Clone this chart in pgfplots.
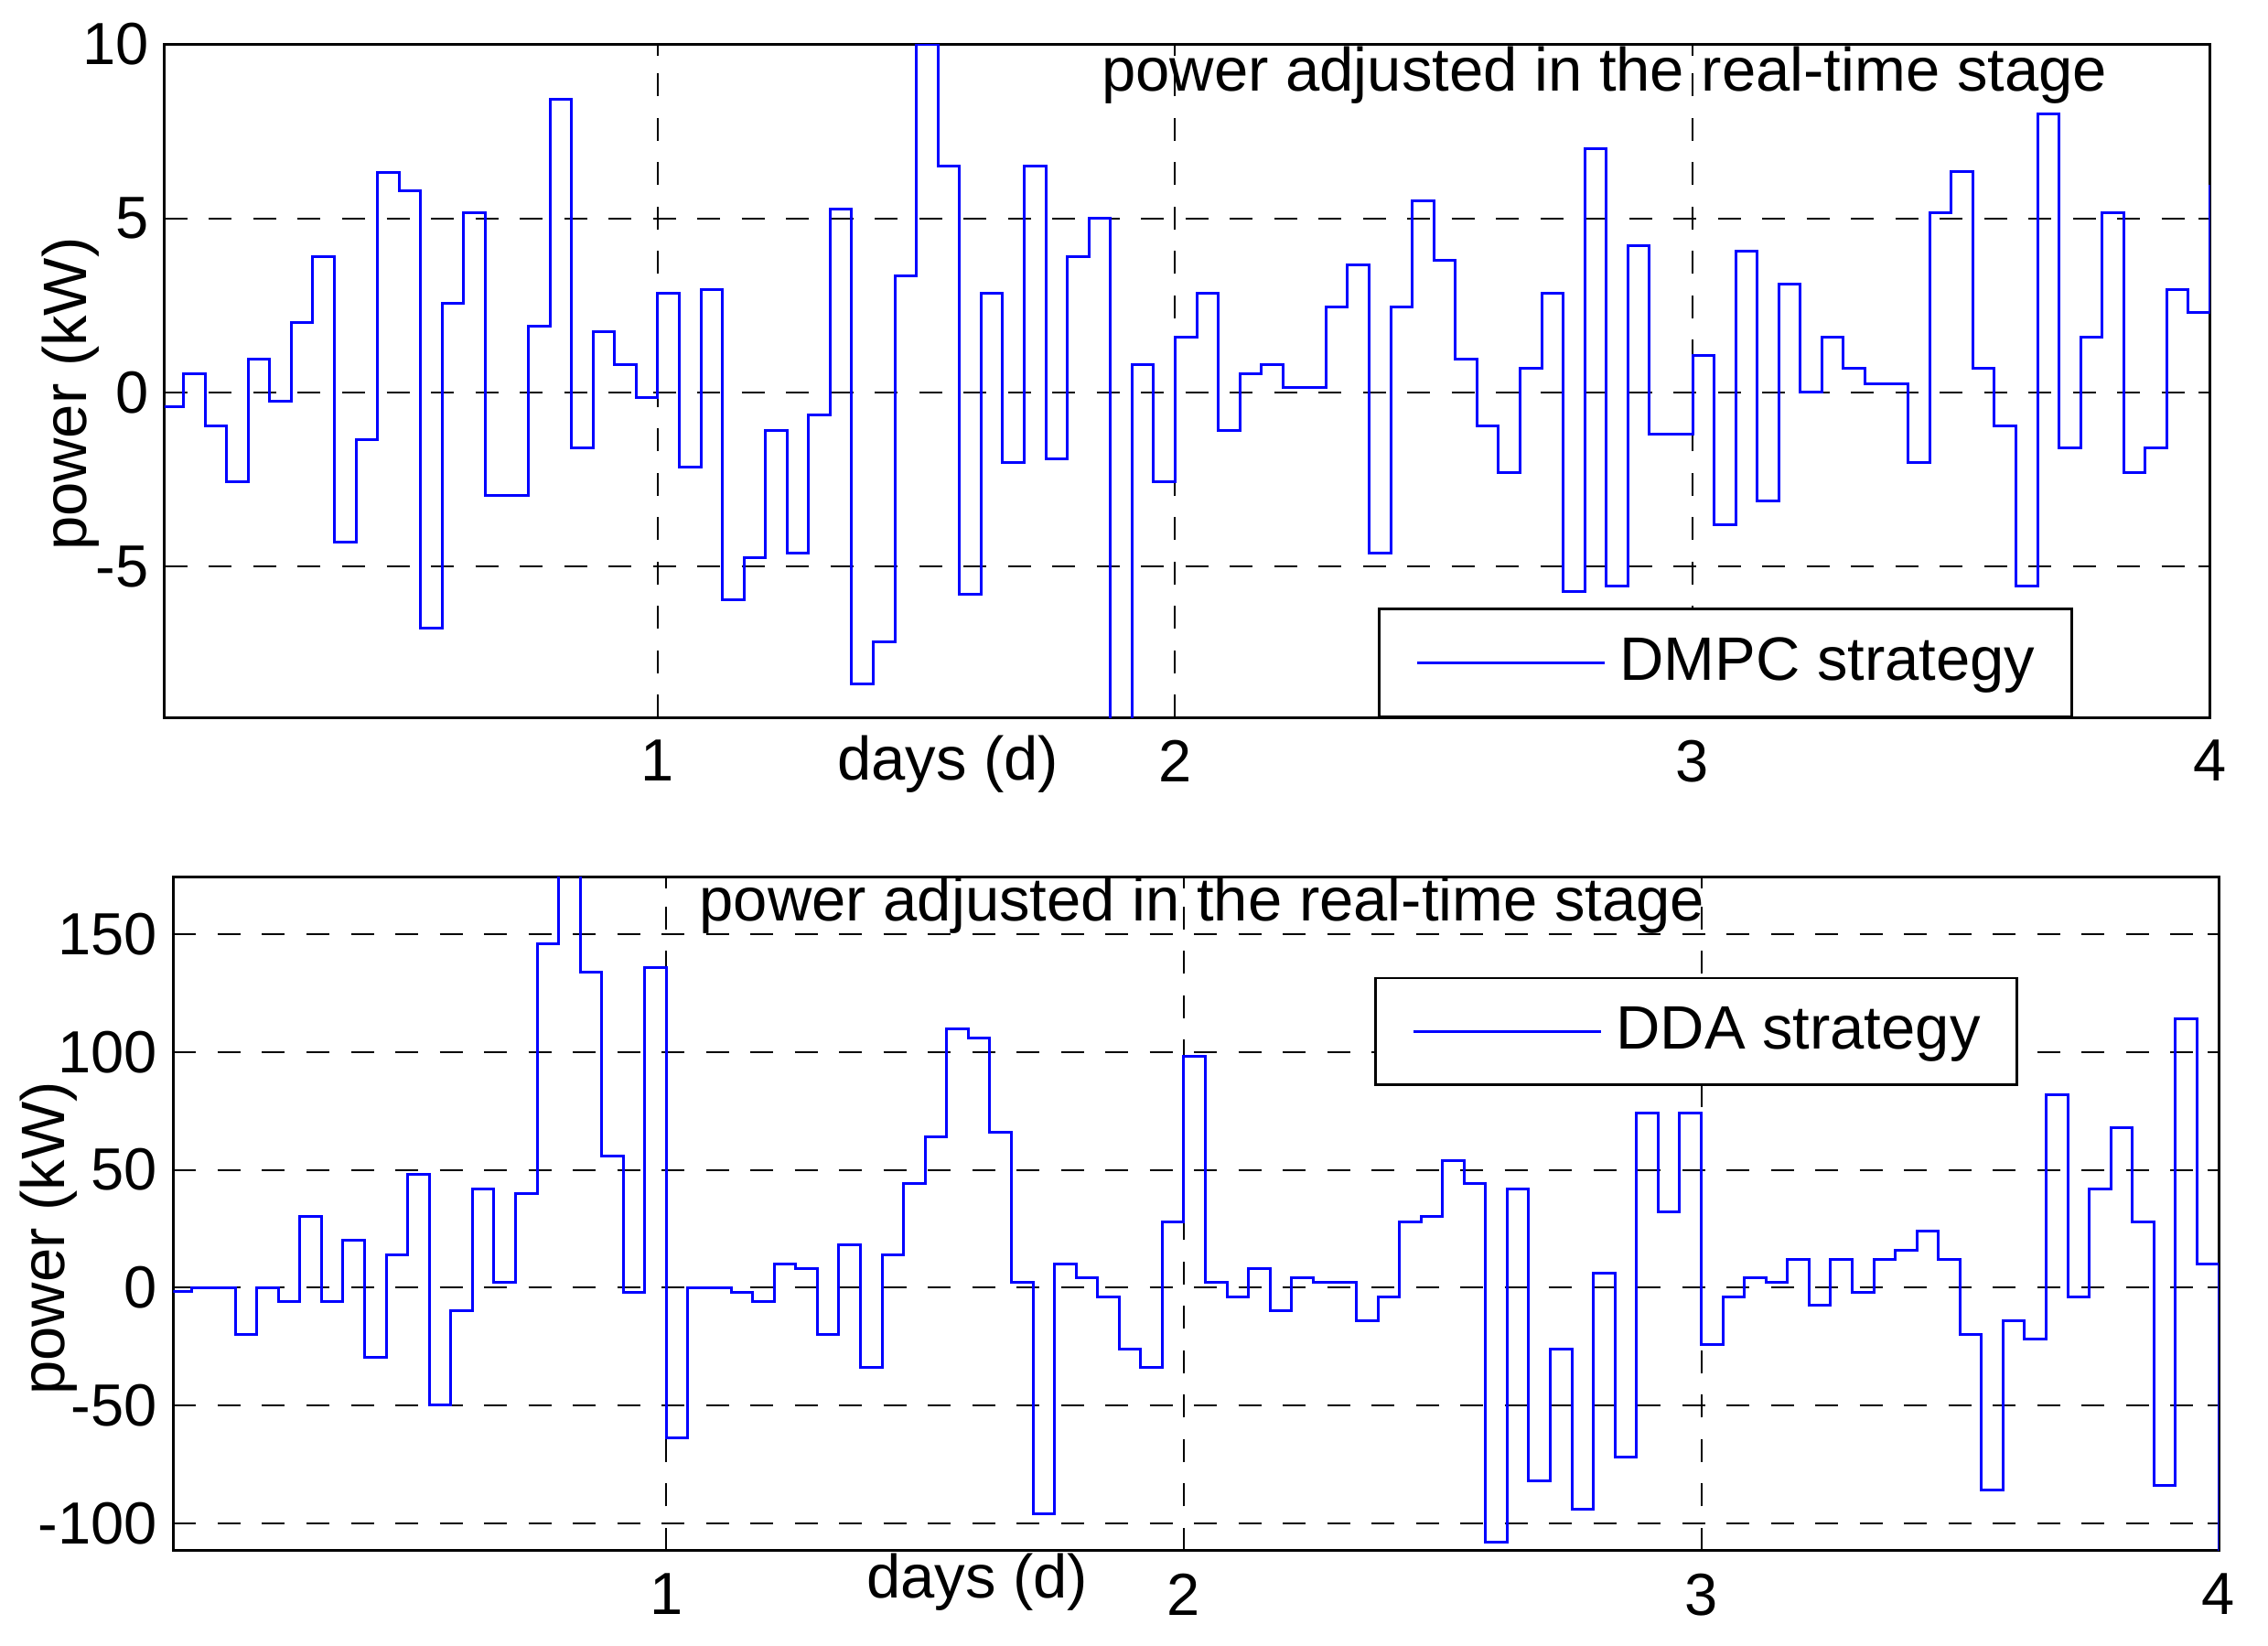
\documentclass[border=0pt]{standalone}
\usepackage{fontspec}
\setmainfont{Liberation Sans}
\usepackage{pgfplots}
\usepackage{pgfplotstable}
\pgfplotsset{compat=1.18}

% hour  power (kW), DMPC strategy
\pgfplotstableread{
h v
1 -0.4
2 0.55
3 -0.95
4 -2.55
5 0.95
6 -0.25
7 2.0
8 3.9
9 -4.3
10 -1.35
11 6.3
12 5.8
13 -6.75
14 2.55
15 5.15
16 -2.95
17 -2.95
18 1.9
19 8.4
20 -1.6
21 1.75
22 0.8
23 -0.15
24 2.85
25 -2.15
26 2.95
27 -5.95
28 -4.75
29 -1.1
30 -4.6
31 -0.65
32 5.25
33 -8.35
34 -7.15
35 3.35
36 10
37 6.5
38 -5.8
39 2.85
40 -2.0
41 6.5
42 -1.9
43 3.9
44 5.0
45 -10.5
46 0.8
47 -2.55
48 1.6
49 2.85
50 -1.1
51 0.55
52 0.8
53 0.15
54 0.15
55 2.45
56 3.65
57 -4.6
58 2.45
59 5.5
60 3.8
61 0.95
62 -0.95
63 -2.3
64 0.7
65 2.85
66 -5.7
67 7.0
68 -5.55
69 4.2
70 -1.2
71 -1.2
72 1.05
73 -3.8
74 4.05
75 -3.1
76 3.1
77 0.0
78 1.6
79 0.7
80 0.25
81 0.25
82 -2.0
83 5.15
84 6.35
85 0.7
86 -0.95
87 -5.55
88 8.0
89 -1.6
90 1.6
91 5.15
92 -2.3
93 -1.6
94 2.95
95 2.3
96 5.95
}\dmpc

% hour  power (kW), DDA strategy
\pgfplotstableread{
h v
1 -1.5
2 0
3 0
4 -20
5 0
6 -6
7 30
8 -6
9 20
10 -29.5
11 14
12 48
13 -50
14 -10
15 42
16 2.3
17 40
18 146
19 180
20 134
21 56
22 -2
23 136
24 -64
25 0
26 0
27 -2
28 -6
29 10
30 8
31 -20
32 18
33 -34
34 14
35 44
36 64
37 110
38 106
39 66
40 2.3
41 -96
42 10
43 4
44 -4
45 -26
46 -34
47 28
48 98
49 2.3
50 -4
51 8
52 -10
53 4
54 2.3
55 2.3
56 -14
57 -4
58 28
59 30
60 54
61 44
62 -108
63 42
64 -82
65 -26
66 -94
67 6
68 -72
69 74
70 32
71 74
72 -24
73 -4
74 4
75 2.3
76 12
77 -7.6
78 12
79 -2
80 12
81 16
82 24
83 12
84 -20
85 -86
86 -14
87 -22
88 82
89 -4
90 42
91 68
92 28
93 -84
94 114
95 10
96 -130
}\dda

\pgfplotsset{
  stairchart/.style={
    scale only axis,
    anchor=south west,
    width=447.1pt, height=147.2pt,
    xmin=1.13, xmax=96,
    xtick={24,48,72,96}, xticklabels={1,2,3,4},
    grid=major,
    major grid style={black, line width=0.4pt, dash pattern=on 5pt off 4.7pt},
    axis line style={black, line width=0.6pt},
    tick align=inside, major tick length=2.5pt,
    tick style={black, line width=0.4pt},
    ticklabel style={font=\fontsize{13}{15}\selectfont},
    xticklabel style={yshift=-1.5pt},
    label style={font=\fontsize{13.4}{16}\selectfont},
    xlabel={days (d)}, ylabel={power (kW)},
    legend cell align=left,
    legend style={draw=black, fill=white, line width=0.5pt,
      inner xsep=6pt, inner ysep=4.3pt,
      font=\fontsize{13.4}{16}\selectfont},
    legend image code/.code={%
      \path (0pt,0pt) (44pt,0pt);
      \draw[#1] (2pt,0pt) -- (43pt,0pt);},
  },
  every axis plot/.append style={const plot, no marks,
    color={rgb,255:red,0;green,0;blue,255}, line width=0.6pt},
}

\begin{document}
\begin{tikzpicture}
\useasboundingbox (0,0) rectangle (495.8pt,-359.6pt);

\begin{axis}[stairchart,
  at={(36pt,-156.8pt)},
  ymin=-9.32, ymax=10,
  ytick={-5,0,5,10}, yticklabels={-5,0,5,10},
  xlabel style={at={(axis description cs:0.383,-0.069)}, anchor=center},
  ylabel style={at={(axis description cs:-0.046,0.48)}, anchor=center},
  legend style={at={(0.933,0)}, anchor=south east},
]
\addplot table[x=h, y=v] {\dmpc};
\addlegendentry{DMPC strategy}
\node[font=\fontsize{13.4}{16}\selectfont] at (rel axis cs:0.704,0.953) {power adjusted in the real-time stage};
\end{axis}

\begin{axis}[stairchart,
  at={(37.9pt,-338.95pt)},
  ymin=-111.7, ymax=174.2,
  ytick={-100,-50,0,50,100,150}, yticklabels={-100,-50,0,50,100,150},
  xlabel style={at={(axis description cs:0.393,-0.047)}, anchor=center},
  ylabel style={at={(axis description cs:-0.061,0.464)}, anchor=center},
  legend style={at={(0.902,0.852)}, anchor=north east},
]
\addplot table[x=h, y=v] {\dda};
\addlegendentry{DDA strategy}
\node[font=\fontsize{13.4}{16}\selectfont] at (rel axis cs:0.503,0.959) {power adjusted in the real-time stage};
\end{axis}
\end{tikzpicture}
\end{document}
